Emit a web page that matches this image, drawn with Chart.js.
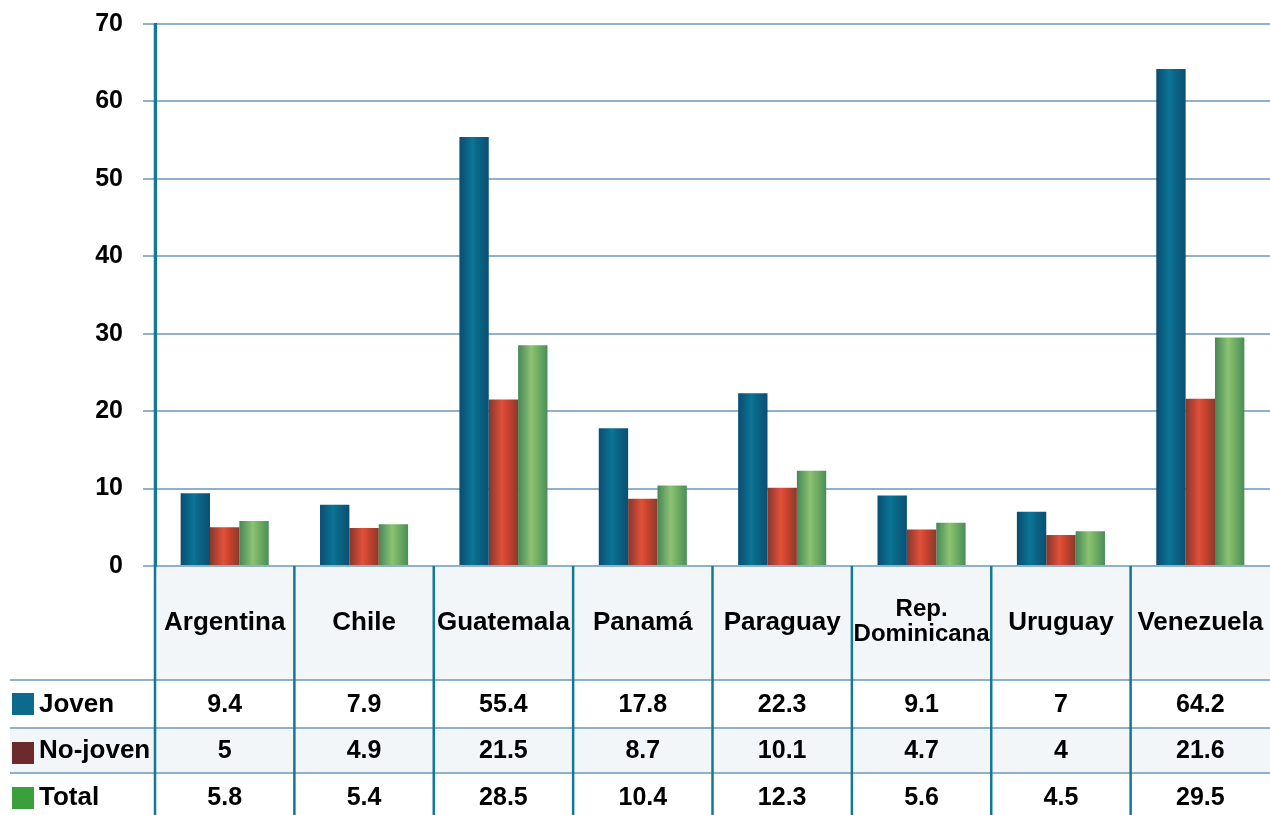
<!DOCTYPE html>
<html>
<head>
<meta charset="utf-8">
<script src="https://cdn.jsdelivr.net/npm/chart.js@4.4.1/dist/chart.umd.min.js"></script>
<style>
html,body{margin:0;padding:0;background:#fff;}
#wrap{width:1270px;height:815px;position:relative;}
</style>
</head>
<body>
<div id="wrap"><canvas id="c" width="1270" height="815"></canvas></div>
<script>
const categories = ['Argentina','Chile','Guatemala','Panamá','Paraguay',['Rep.','Dominicana'],'Uruguay','Venezuela'];
const seriesNames = ['Joven','No-joven','Total'];
const joven   = [9.4, 7.9, 55.4, 17.8, 22.3, 9.1, 7, 64.2];
const noJoven = [5, 4.9, 21.5, 8.7, 10.1, 4.7, 4, 21.6];
const total   = [5.8, 5.4, 28.5, 10.4, 12.3, 5.6, 4.5, 29.5];
const yTicks  = [0, 10, 20, 30, 40, 50, 60, 70];

const FONT = '"Liberation Sans", Arial, sans-serif';
const GRID = '#8fb1c9';
const TEAL = '#127898';
const gradStops = [
  ['#0a4d71', '#0b7595', '#0a6888', '#0a4f73'],
  ['#86372b', '#e0503a', '#d2452f', '#8a3a2b'],
  ['#468756', '#8cc273', '#7ab566', '#4a8d58']
];
const legendColors = ['#0d6a8a', '#6b2a2c', '#3a9f3c'];

const gradientPlugin = {
  id: 'grad',
  beforeDatasetsDraw(chart) {
    const ctx = chart.ctx;
    chart.data.datasets.forEach((ds, di) => {
      const meta = chart.getDatasetMeta(di);
      meta.data.forEach(el => {
        const p = el.getProps(['x', 'width'], true);
        const g = ctx.createLinearGradient(p.x - p.width / 2, 0, p.x + p.width / 2, 0);
        const s = gradStops[di];
        g.addColorStop(0, s[0]); g.addColorStop(0.45, s[1]); g.addColorStop(0.6, s[2]); g.addColorStop(1, s[3]);
        el.options = Object.assign({}, el.options, { backgroundColor: g });
      });
    });
  }
};

const tablePlugin = {
  id: 'table',
  afterDraw(chart) {
    const ctx = chart.ctx;
    const xs = chart.scales.x;
    const area = chart.chartArea;
    const left = area.left, right = area.right, top = area.bottom;
    const rowTops = [top, 680, 728, 773, 815];
    const values = [joven, noJoven, total];
    ctx.save();
    ctx.fillStyle = '#f2f6f9';
    ctx.fillRect(left, top + 1, right - left, rowTops[1] - top - 1);
    ctx.fillRect(10, rowTops[2], right - 10, rowTops[3] - rowTops[2]);
    ctx.strokeStyle = GRID; ctx.lineWidth = 2;
    [rowTops[1], rowTops[2], rowTops[3]].forEach(y => {
      ctx.beginPath(); ctx.moveTo(10, y); ctx.lineTo(right, y); ctx.stroke();
    });
    ctx.strokeStyle = TEAL; ctx.lineWidth = 2.5;
    const n = categories.length;
    for (let i = 0; i < n; i++) {
      const bx = i === 0 ? left : (xs.getPixelForValue(i - 1) + xs.getPixelForValue(i)) / 2;
      ctx.beginPath(); ctx.moveTo(bx, i === 0 ? area.top : top); ctx.lineTo(bx, 815); ctx.stroke();
    }
    ctx.fillStyle = '#000';
    ctx.textAlign = 'center'; ctx.textBaseline = 'middle';
    categories.forEach((c, i) => {
      const cx = xs.getPixelForValue(i);
      if (Array.isArray(c)) {
        ctx.font = 'bold 24px ' + FONT;
        ctx.fillText(c[0], cx, 609);
        ctx.fillText(c[1], cx, 634);
      } else {
        ctx.font = 'bold 26px ' + FONT;
        ctx.fillText(c, cx, 623);
      }
    });
    const centers = [705, 751, 798];
    ctx.font = 'bold 25px ' + FONT;
    values.forEach((arr, r) => {
      arr.forEach((v, i) => {
        ctx.fillText(String(v), xs.getPixelForValue(i), centers[r]);
      });
    });
    const sq = [693, 742, 787];
    ctx.textAlign = 'left';
    ctx.font = 'bold 26px ' + FONT;
    seriesNames.forEach((nm, r) => {
      ctx.fillStyle = legendColors[r];
      ctx.fillRect(12, sq[r], 22, 22);
      ctx.fillStyle = '#000';
      ctx.fillText(nm, 39, centers[r]);
    });
    ctx.restore();
  }
};

new Chart(document.getElementById('c'), {
  type: 'bar',
  data: {
    labels: categories,
    datasets: [
      { label: seriesNames[0], data: joven },
      { label: seriesNames[1], data: noJoven },
      { label: seriesNames[2], data: total }
    ]
  },
  options: {
    responsive: false,
    animation: false,
    devicePixelRatio: 1,
    layout: { padding: { top: 24, bottom: 249, left: 0, right: 0 } },
    datasets: { bar: { categoryPercentage: 0.632, barPercentage: 1, borderWidth: 0 } },
    plugins: { legend: { display: false }, tooltip: { enabled: false } },
    scales: {
      x: { display: false },
      y: {
        min: 0, max: 70,
        afterFit(s) { s.width = 155; s.paddingTop = 0; s.paddingBottom = 0; },
        afterBuildTicks(s) { s.ticks = yTicks.map(v => ({ value: v })); },
        ticks: { color: '#000', font: { family: FONT, size: 25, weight: 'bold' }, padding: 20 },
        grid: { color: GRID, lineWidth: 2, tickLength: 12, tickColor: GRID },
        border: { display: true, color: TEAL, width: 3 }
      }
    }
  },
  plugins: [gradientPlugin, tablePlugin]
});
</script>
</body>
</html>
